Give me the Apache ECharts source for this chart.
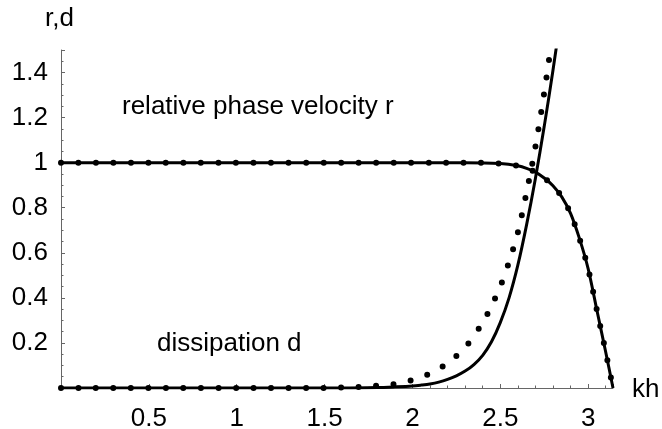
<!DOCTYPE html>
<html>
<head>
<meta charset="utf-8">
<script src="https://cdn.jsdelivr.net/npm/echarts@6/dist/echarts.min.js"></script>
<style>
  html, body { margin: 0; padding: 0; background: #fff; }
  #chart { width: 662px; height: 429px; }
</style>
</head>
<body>
<div id="chart"></div>
<script>
// values
var xLabelValues = [0.5, 1, 1.5, 2, 2.5, 3];
var yLabelValues = [0.2, 0.4, 0.6, 0.8, 1, 1.2, 1.4];

// relative phase velocity r (solid and dotted coincide)
var rKh = [0, 2.3, 2.5, 2.6, 2.65, 2.7, 2.75, 2.8, 2.85, 2.9, 2.95, 3.0, 3.05, 3.1, 3.1416];
var rVal = [1, 1, 0.996, 0.986, 0.975, 0.958, 0.932, 0.898, 0.848, 0.775, 0.665, 0.53, 0.345, 0.16, 0];

// dissipation d, solid line
var dKh = [0, 1.6, 1.8, 1.9, 2.0, 2.05, 2.1, 2.15, 2.2, 2.25, 2.3, 2.35, 2.4, 2.45, 2.5, 2.55, 2.6, 2.65, 2.7, 2.75, 2.8, 2.85];
var dVal = [0, 0, 0.002, 0.005, 0.009, 0.013, 0.018, 0.026, 0.038, 0.054, 0.075, 0.104, 0.145, 0.205, 0.29, 0.4, 0.545, 0.725, 0.93, 1.16, 1.41, 1.68];

// dissipation d, dotted line
var dDotKh = [0, 1.5, 1.6, 1.7, 1.8, 1.9, 2.0, 2.1, 2.2, 2.3, 2.4, 2.45, 2.5, 2.55, 2.6, 2.65, 2.7, 2.75, 2.8];
var dDotVal = [0, 0, 0.002, 0.005, 0.01, 0.018, 0.036, 0.064, 0.11, 0.18, 0.29, 0.365, 0.45, 0.56, 0.69, 0.87, 1.07, 1.31, 1.58];

function pairs(xs, ys) {
    return xs.map(function (x, i) { return [x, ys[i]]; });
}

function inList(list, v) {
    return list.some(function (t) { return Math.abs(t - v) < 1e-6; });
}

var FONT = "'Liberation Sans', Arial, sans-serif";
var axisGray = '#666';

var chart = echarts.init(document.getElementById('chart'));

var solid = { color: '#000', width: 3 };
var dots = { color: '#000', width: 6, type: [0, 17.5], cap: 'round' };

chart.setOption({
    animation: false,
    textStyle: { fontFamily: FONT },
    grid: { left: 61, right: 49, top: 50, bottom: 41, containLabel: false, outerBoundsMode: 'none' },
    xAxis: [{
        type: 'value',
        min: 0,
        max: 3.1416,
        interval: 0.5,
        axisLine: { lineStyle: { color: axisGray, width: 1 } },
        axisTick: { inside: true, length: 4, lineStyle: { color: axisGray } },
        axisLabel: {
            color: '#000', fontSize: 26, fontFamily: FONT, margin: 18,
            formatter: function (v) { return inList(xLabelValues, v) ? String(v) : ''; }
        },
        splitLine: { show: false }
    }, {
        type: 'value',
        min: 0,
        max: 3.1416,
        interval: 0.1,
        position: 'bottom',
        axisLine: { show: false },
        axisTick: { inside: true, length: 2.5, lineStyle: { color: axisGray } },
        axisLabel: { show: false },
        splitLine: { show: false }
    }],
    yAxis: [{
        type: 'value',
        min: 0,
        max: 1.5,
        interval: 0.2,
        axisLine: { show: true, lineStyle: { color: axisGray, width: 1 } },
        axisTick: { show: true, inside: true, length: 4, lineStyle: { color: axisGray } },
        axisLabel: {
            color: '#000', fontSize: 26, fontFamily: FONT, margin: 13,
            formatter: function (v) { return inList(yLabelValues, v) ? String(v) : ''; }
        },
        splitLine: { show: false }
    }, {
        type: 'value',
        min: 0,
        max: 1.5,
        interval: 0.05,
        position: 'left',
        axisLine: { show: false },
        axisTick: { show: true, inside: true, length: 2.5, lineStyle: { color: axisGray } },
        axisLabel: { show: false },
        splitLine: { show: false }
    }],
    graphic: [
        { type: 'text', left: 45, top: 6, style: { text: 'r,d', font: '26px ' + FONT, fill: '#000' } },
        { type: 'text', left: 632, top: 377, style: { text: 'kh', font: '26px ' + FONT, fill: '#000' } },
        { type: 'text', left: 122, top: 94, style: { text: 'relative phase velocity r', font: '26px ' + FONT, fill: '#000' } },
        { type: 'text', left: 157, top: 331, style: { text: 'dissipation d', font: '26px ' + FONT, fill: '#000' } }
    ],
    series: [{
        name: 'r',
        type: 'line',
        smooth: 0.3,
        showSymbol: false,
        lineStyle: solid,
        data: pairs(rKh, rVal)
    }, {
        name: 'r dotted',
        type: 'line',
        smooth: 0.3,
        showSymbol: false,
        lineStyle: dots,
        data: pairs(rKh, rVal)
    }, {
        name: 'd',
        type: 'line',
        smooth: 0.3,
        showSymbol: false,
        lineStyle: solid,
        data: pairs(dKh, dVal)
    }, {
        name: 'd dotted',
        type: 'line',
        smooth: 0.3,
        showSymbol: false,
        lineStyle: dots,
        data: pairs(dDotKh, dDotVal)
    }]
});
</script>
</body>
</html>
